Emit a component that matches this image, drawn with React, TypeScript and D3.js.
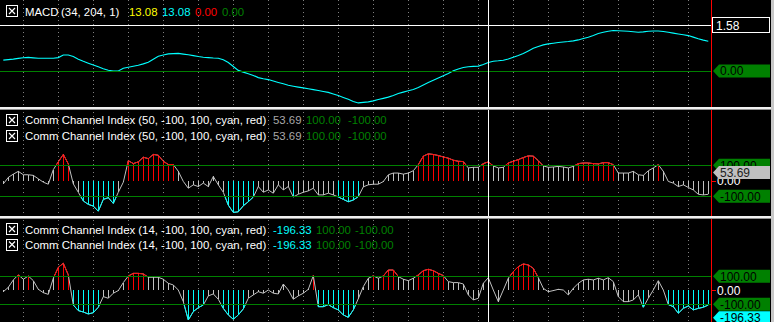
import React, { useEffect } from 'react';
import * as d3 from 'd3';

// ---------- DATA ----------
const macdValues = [
  0.374, 0.392, 0.409, 0.433, 0.457, 0.467, 0.45, 0.436, 0.436, 0.436,
  0.436, 0.46, 0.55, 0.55, 0.495, 0.405, 0.333, 0.268, 0.203, 0.144,
  0.079, 0.024, 0.0, 0.0, 0.093, 0.127, 0.161, 0.196, 0.244, 0.299,
  0.402, 0.505, 0.55, 0.587, 0.598, 0.605, 0.581, 0.556, 0.529, 0.498,
  0.471, 0.46, 0.447, 0.44, 0.385, 0.292, 0.155, 0.021, -0.038, -0.096,
  -0.151, -0.227, -0.264, -0.295, -0.344, -0.392, -0.44, -0.488, -0.522, -0.553,
  -0.581, -0.608, -0.639, -0.67, -0.704, -0.735, -0.787, -0.845, -0.907, -0.972,
  -1.048, -1.096, -1.079, -1.061, -1.027, -0.982, -0.941, -0.897, -0.842, -0.776,
  -0.725, -0.68, -0.635, -0.567, -0.481, -0.398, -0.316, -0.24, -0.165, -0.086,
  0.007, 0.069, 0.12, 0.144, 0.158, 0.168, 0.22, 0.295, 0.333, 0.35,
  0.371, 0.412, 0.474, 0.529, 0.601, 0.69, 0.78, 0.845, 0.897, 0.931,
  0.955, 0.979, 0.996, 1.013, 1.034, 1.068, 1.116, 1.161, 1.219, 1.285,
  1.329, 1.364, 1.391, 1.384, 1.374, 1.364, 1.35, 1.333, 1.343, 1.367,
  1.374, 1.374, 1.357, 1.329, 1.302, 1.271, 1.243, 1.216, 1.164, 1.109,
  1.061, 1.02,
];

const cci50Values = [
  -20, 22, 43, 61, 39, 39, 35, 13, -9, -22,
  72, 122, 170, 109, -20, -74, -130, -152, -163, -196,
  -120, -109, -146, -74, -9, 130, 111, 122, 152, 143,
  170, 165, 126, 105, 105, 61, -4, -48, -26, -37,
  -15, -37, 28, -26, -74, -157, -204, -200, -161, -135,
  -105, -37, -74, -59, -80, -26, -59, -37, -104, -87,
  -74, -65, -48, -91, -91, -80, -91, -104, -120, -135,
  -124, -102, -39, -26, -22, -22, -5, 39, 50, 50,
  43, 50, 65, 104, 159, 174, 170, 163, 154, 146,
  133, 126, 124, 83, 87, 87, 111, 122, 96, 83,
  87, 115, 126, 137, 150, 161, 159, 130, 96, 87,
  89, 93, 89, 83, 93, 111, 115, 115, 111, 109,
  117, 117, 104, 50, 50, 50, 61, 39, 35, 65,
  83, 104, 61, -4, -15, -37, -26, -43, -59, -87,
  -91, -87,
];

const cci14Values = [
  -10, 21, 74, 110, 79, 102, 69, 7, -17, -29,
  86, 164, 193, 110, -105, -145, -155, -169, -160, -121,
  -45, -57, -21, -2, 55, 102, 121, 121, 117, 93,
  93, 93, 79, 50, 38, 2, -81, -212, -152, -124,
  -105, -40, -26, -64, -129, -176, -207, -176, -133, -57,
  -33, -10, -21, 2, -21, -26, 45, 2, -64, -40,
  -21, 7, 105, -117, -117, -102, -124, -140, -176, -193,
  -140, -60, 26, 86, 103, 86, 102, 145, 145, 98,
  79, 69, 86, 110, 140, 150, 140, 121, 105, 62,
  55, 55, 45, -33, -69, -57, 50, 90, 2, -81,
  2, 86, 133, 169, 188, 181, 157, 90, 14, -10,
  -2, 7, 2, -33, 14, 50, 74, 79, 74, 86,
  74, 90, 62, -45, -81, -81, -69, -33, -121, -57,
  2, 69, 2, -102, -117, -164, -129, -112, -140, -129,
  -121, -105,
];

const macdTitle = 'MACD';
const macdParams = '(34, 204, 1)';
const macdLegendValues = ['13.08', '13.08', '0.00', '0.00'];
const cci50Title = 'Comm Channel Index (50, -100, 100, cyan, red)';
const cci50LegendValues = ['53.69', '100.00', '-100.00'];
const cci14Title = 'Comm Channel Index (14, -100, 100, cyan, red)';
const cci14LegendValues = ['-196.33', '100.00', '-100.00'];

const macdLevel = 1.58;
const cciLevels = [100, -100];
const cci50Last = 53.69;
const cci14Last = -196.33;
const cursorBar = 97;

// ---------- STYLE / LAYOUT ----------
const W = 774;
const H = 322;
const AXIS_X = 711;
const FONT = "'Liberation Sans', Arial, sans-serif";
const FS = 11.4;
const GREEN = '#008000';
const CYAN = '#00ffff';
const RED = '#ff0000';
const GRAY = '#c0c0c0';

const x = d3.scaleLinear().domain([0, macdValues.length - 1]).range([3.3, 708.3]);
const yMacd = d3.scaleLinear().domain([0, macdLevel]).range([71, 25]);
const yCci50 = d3.scaleLinear().domain([-100, 100]).range([196.3, 165.3]);
const yCci14 = d3.scaleLinear().domain([-100, 100]).range([304.3, 276.3]);

const gridBars = d3.range(4, macdValues.length, 7);

function CheckBox({ x0, y0 }: { x0: number; y0: number }) {
  return (
    <g stroke="#ffffff" strokeWidth={1} fill="none" shapeRendering="crispEdges">
      <rect x={x0 + 0.5} y={y0 + 0.5} width={11} height={11} />
      <path d={`M${x0 + 3},${y0 + 3}L${x0 + 9},${y0 + 9}M${x0 + 9},${y0 + 3}L${x0 + 3},${y0 + 9}`} shapeRendering="auto" strokeWidth={1.2} />
    </g>
  );
}

function ValueBox({ y, text, fill, textFill = '#000' }: { y: number; text: string; fill: string; textFill?: string }) {
  const h = 13;
  const top = y - h / 2;
  const d = `M${AXIS_X + 2},${y}L${AXIS_X + 8},${top}L770,${top}L770,${top + h}L${AXIS_X + 8},${top + h}Z`;
  return (
    <g>
      <path d={d} fill={fill} />
      <text x={AXIS_X + 9} y={y + 4.3} fontSize={FS + 0.6} fontFamily={FONT} fill={textFill}>{text}</text>
    </g>
  );
}

function ZeroTick({ y }: { y: number }) {
  return (
    <g>
      <line x1={AXIS_X} x2={AXIS_X + 5} y1={Math.round(y) + 0.5} y2={Math.round(y) + 0.5} stroke={RED} shapeRendering="crispEdges" />
      <text x={AXIS_X + 6} y={y + 4.3} fontSize={FS + 0.6} fontFamily={FONT} fill="#ffffff">0.00</text>
    </g>
  );
}

function CciPanel({ values, y, id, top, bottom }: { values: number[]; y: d3.ScaleLinear<number, number>; id: string; top: number; bottom: number }) {
  const line = d3.line<number>().x((_, i) => x(i)).y((d) => y(d));
  const path = line(values) || '';
  const zero = y(0);
  const hi = y(100);
  const lo = y(-100);
  return (
    <g>
      <defs>
        <clipPath id={`${id}-hi`}>
          <rect x={0} y={top} width={AXIS_X} height={hi - top} />
        </clipPath>
        <clipPath id={`${id}-lo`}>
          <rect x={0} y={lo} width={AXIS_X} height={bottom - lo} />
        </clipPath>
        <clipPath id={`${id}-all`}>
          <rect x={0} y={top} width={AXIS_X} height={bottom - top} />
        </clipPath>
      </defs>
      <g clipPath={`url(#${id}-all)`}>
        {values.map((v, i) => {
          const xx = Math.round(x(i)) + 0.5;
          const c = v > 100 ? RED : v < -100 ? CYAN : GRAY;
          return <line key={i} x1={xx} x2={xx} y1={zero} y2={y(v)} stroke={c} strokeWidth={1} shapeRendering="crispEdges" />;
        })}
        <path d={path} fill="none" stroke={GRAY} strokeWidth={1} />
        <path d={path} fill="none" stroke={RED} strokeWidth={1} clipPath={`url(#${id}-hi)`} />
        <path d={path} fill="none" stroke={CYAN} strokeWidth={1} clipPath={`url(#${id}-lo)`} />
      </g>
      {cciLevels.map((lv) => (
        <line key={lv} x1={0} x2={AXIS_X} y1={Math.round(y(lv)) + 0.5} y2={Math.round(y(lv)) + 0.5} stroke={GREEN} shapeRendering="crispEdges" />
      ))}
    </g>
  );
}

export default function App() {
  useEffect(() => {
    document.body.style.margin = '0';
    document.body.style.background = '#000';
  }, []);

  const macdLine = d3.line<number>().x((_, i) => x(i)).y((d) => yMacd(d));
  const macdX = [129, 162, 195, 222];
  const macdColors = ['#ffff00', CYAN, RED, GREEN];
  const cciX50 = [273, 306, 348];
  const cciX14 = [273, 316, 355];

  return (
    <svg width={W} height={H} style={{ position: 'absolute', left: 0, top: 0, display: 'block' }} fontFamily={FONT}>
      <rect x={0} y={0} width={W} height={H} fill="#000" />

      {/* dotted vertical grid */}
      {gridBars.map((b) => (
        <line key={b} x1={Math.round(x(b)) + 0.5} x2={Math.round(x(b)) + 0.5} y1={0} y2={H} stroke="#808080" strokeDasharray="1,3" shapeRendering="crispEdges" />
      ))}

      {/* ---- Panel 1: MACD ---- */}
      <line x1={0} x2={AXIS_X} y1={Math.round(yMacd(macdLevel)) + 0.5} y2={Math.round(yMacd(macdLevel)) + 0.5} stroke="#ffffff" shapeRendering="crispEdges" />
      <path d={macdLine(macdValues) || ''} fill="none" stroke={CYAN} strokeWidth={1.1} />
      <line x1={0} x2={AXIS_X} y1={Math.round(yMacd(0)) + 0.5} y2={Math.round(yMacd(0)) + 0.5} stroke={GREEN} shapeRendering="crispEdges" />

      {/* ---- Panel 2: CCI 50 ---- */}
      <CciPanel values={cci50Values} y={yCci50} id="c50" top={110} bottom={215} />
      {/* ---- Panel 3: CCI 14 ---- */}
      <CciPanel values={cci14Values} y={yCci14} id="c14" top={219} bottom={H} />

      {/* cursor */}
      <line x1={Math.round(x(cursorBar)) + 0.5} x2={Math.round(x(cursorBar)) + 0.5} y1={0} y2={H} stroke="#ffffff" shapeRendering="crispEdges" />

      {/* right axis area */}
      <rect x={AXIS_X + 0.5} y={0} width={W - AXIS_X} height={H} fill="#000" />
      <line x1={AXIS_X + 0.5} x2={AXIS_X + 0.5} y1={0} y2={H} stroke={RED} shapeRendering="crispEdges" />

      {/* Panel 1 labels */}
      <rect x={712.5} y={yMacd(macdLevel) - 7.5} width={57} height={15} fill="#000" stroke="#ffffff" shapeRendering="crispEdges" />
      <text x={716} y={yMacd(macdLevel) + 4.5} fontSize={FS + 0.6} fill="#ffffff">{macdLevel.toFixed(2)}</text>
      <ValueBox y={yMacd(0)} text="0.00" fill={GREEN} />

      {/* Panel 2 labels */}
      <ZeroTick y={yCci50(0)} />
      <ValueBox y={yCci50(100)} text="100.00" fill={GREEN} />
      <ValueBox y={yCci50(-100)} text="-100.00" fill={GREEN} />
      <ValueBox y={yCci50(cci50Last)} text={cci50Last.toFixed(2)} fill="#c0c0c0" textFill="#202020" />

      {/* Panel 3 labels */}
      <ZeroTick y={yCci14(0)} />
      <ValueBox y={yCci14(100)} text="100.00" fill={GREEN} />
      <ValueBox y={yCci14(-100)} text="-100.00" fill={GREEN} />
      <ValueBox y={yCci14(cci14Last)} text={cci14Last.toFixed(2)} fill={CYAN} />

      {/* separators & border */}
      <rect x={0} y={107} width={W} height={2} fill="#f0f0f0" />
      <rect x={0} y={109} width={W} height={1} fill="#909090" />
      <rect x={0} y={216} width={W} height={2} fill="#f0f0f0" />
      <rect x={0} y={218} width={W} height={1} fill="#909090" />
      <rect x={771} y={0} width={3} height={H} fill="#c8c8c8" />

      {/* headers */}
      <CheckBox x0={6} y0={5} />
      <text y={16} fontSize={FS} fill="#ffffff">
        <tspan x={25}>{macdTitle}</tspan>
        <tspan x={61}>{macdParams}</tspan>
        {macdLegendValues.map((v, i) => (
          <tspan key={i} x={macdX[i]} fill={macdColors[i]}>{v}</tspan>
        ))}
      </text>

      {[124, 140].map((by, k) => (
        <g key={k}>
          <CheckBox x0={6} y0={by - 10} />
          <text y={by} fontSize={FS} fill="#ffffff">
            <tspan x={25}>{cci50Title}</tspan>
            {cci50LegendValues.map((v, i) => (
              <tspan key={i} x={cciX50[i]} fill={i === 0 ? '#a8a8a8' : GREEN}>{v}</tspan>
            ))}
          </text>
        </g>
      ))}

      {[233.5, 249].map((by, k) => (
        <g key={k}>
          <CheckBox x0={6} y0={by - 10.5} />
          <text y={by} fontSize={FS} fill="#ffffff">
            <tspan x={25}>{cci14Title}</tspan>
            {cci14LegendValues.map((v, i) => (
              <tspan key={i} x={cciX14[i]} fill={i === 0 ? CYAN : GREEN}>{v}</tspan>
            ))}
          </text>
        </g>
      ))}
    </svg>
  );
}
